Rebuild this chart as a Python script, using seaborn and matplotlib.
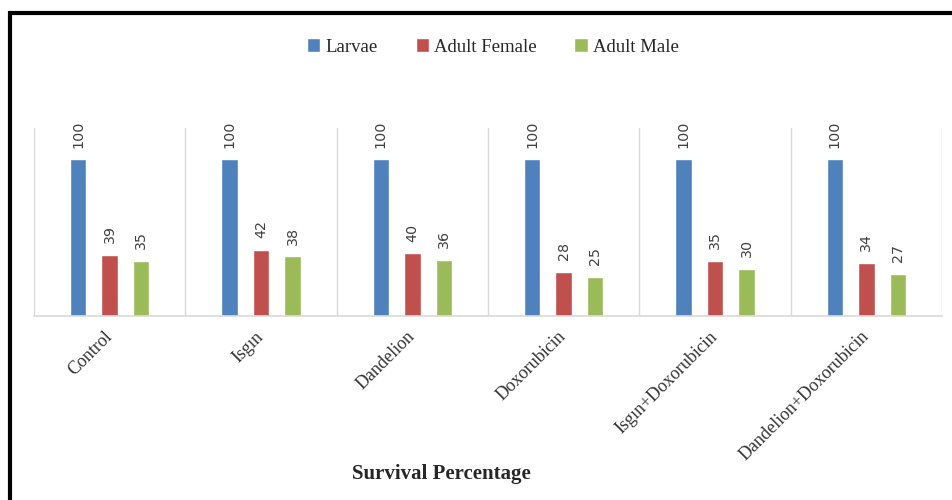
import pandas as pd
import seaborn as sns
import matplotlib.pyplot as plt
from matplotlib.patches import Rectangle

# Survival data per treatment group
groups = ["Control", "Isgın", "Dandelion", "Doxorubicin",
          "Isgın+Doxorubicin", "Dandelion+Doxorubicin"]
larvae = [100, 100, 100, 100, 100, 100]
adult_female = [39, 42, 40, 28, 35, 34]
adult_male = [35, 38, 36, 25, 30, 27]

series = ["Larvae", "Adult Female", "Adult Male"]
colors = ["#4F81BD", "#C0504D", "#9BBB59"]

df = pd.DataFrame({"Group": groups * 3,
                   "Stage": [s for s in series for _ in groups],
                   "Survival": larvae + adult_female + adult_male})

sns.set_style("white")
fig = plt.figure(figsize=(9.53, 5.0), dpi=100)
ax = fig.add_axes([34/953, 1-316/500, (942-34)/953, (316-128)/500])

sns.barplot(data=df, x="Group", y="Survival", hue="Stage", order=groups,
            hue_order=series, palette=colors, width=0.625, gap=0.48,
            saturation=1, errorbar=None, ax=ax)

for c in ax.containers:
    ax.bar_label(c, rotation=90, padding=8.5, fontsize=10.3,
                 color="#404040", family="DejaVu Sans")

ax.set_ylim(0, 120)
ax.set_xlim(-0.5, 5.5)
ax.set_yticks([])
ax.set_xlabel("")
ax.set_ylabel("")

# light category separators
ax.set_xticks([i - 0.5 for i in range(7)], minor=True)
ax.grid(which="minor", axis="x", color="#D9D9D9", lw=1)
ax.tick_params(which="both", length=0)
for s in ["top", "left", "right"]:
    ax.spines[s].set_visible(False)
ax.spines["bottom"].set_color("#D9D9D9")
ax.spines["bottom"].set_linewidth(1.2)

ax.tick_params(axis="x", which="major", pad=13)
for lbl in ax.get_xticklabels():
    lbl.set_rotation(45)
    lbl.set_ha("right")
    lbl.set_va("center")
    lbl.set_rotation_mode("anchor")
    lbl.set_family("Liberation Serif")
    lbl.set_fontsize(13)
    lbl.set_color("#333333")

ax.legend(loc="center", bbox_to_anchor=(493/953, 1-47/500),
          bbox_transform=fig.transFigure, ncol=3, frameon=False,
          handlelength=0.7, handleheight=0.7, handletextpad=0.3,
          columnspacing=2.0, prop={"family": "Liberation Serif", "size": 13.5})

fig.text(441/953, 1-474/500, "Survival Percentage", ha="center", va="center",
         family="Liberation Serif", weight="bold", fontsize=15, color="#262626")

# black frame around the chart
fig.patches.append(Rectangle((10/953, -0.2), 1.2, 1-13/500+0.2,
                             transform=fig.transFigure, fill=False,
                             ec="black", lw=3, zorder=10))

fig.savefig("out.png", dpi=100)
